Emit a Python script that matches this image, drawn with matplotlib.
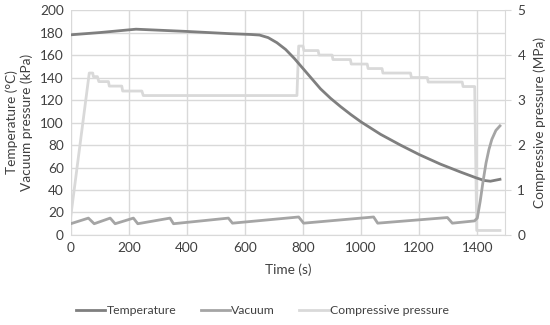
import matplotlib
matplotlib.use("Agg")
import matplotlib.pyplot as plt

# ── data ────────────────────────────────────────────────
temp_t = [0, 100, 225, 400, 550, 620, 650, 680, 710, 740, 770, 800, 830, 860, 895,
          930, 965, 1000, 1067, 1135, 1200, 1273, 1342, 1394, 1423, 1445, 1478]
temp_v = [178, 180, 183, 181, 179, 178.3, 177.8, 175.5, 171, 165, 157, 148, 139, 130, 121.5,
          114, 107, 100.5, 89.5, 80, 71.5, 63, 56, 51, 48.5, 47.8, 49.5]

vac_t = [0, 61, 81, 136, 153, 216, 231, 342, 354, 543, 557, 785, 802, 1043, 1057,
         1297, 1314, 1390, 1400, 1410, 1420, 1430, 1440, 1450, 1464, 1478]
vac_v = [10, 15, 10, 15, 10, 15, 10, 15, 10, 15, 10.5, 16, 10.5, 16, 10.5,
         15.5, 10.5, 12.5, 15, 30, 48, 64, 76, 85, 93, 97]

cp_t = [0, 64, 76, 78, 92, 97, 130, 133, 176, 179, 245, 250, 779, 785, 800, 803,
        852, 855, 900, 903, 963, 966, 1021, 1024, 1072, 1075, 1170, 1173, 1228, 1231,
        1348, 1351, 1391, 1398, 1478]
cp_v = [0.4, 3.6, 3.6, 3.52, 3.52, 3.41, 3.41, 3.31, 3.31, 3.2, 3.2, 3.1, 3.1, 4.2, 4.2, 4.1,
        4.1, 4.0, 4.0, 3.9, 3.9, 3.8, 3.8, 3.7, 3.7, 3.6, 3.6, 3.5, 3.5, 3.4,
        3.4, 3.3, 3.3, 0.1, 0.1]

# ── style ──────────────────────────────────────────────
plt.rcParams["font.family"] = ["Lato", "DejaVu Sans"]
txt = "#404040"
grid = "#d9d9d9"
c_temp, c_vac, c_cp = "#7f7f7f", "#a5a5a5", "#d9d9d9"
fs = 9.8

fig, ax = plt.subplots(figsize=(5.5, 3.25), dpi=100)
fig.subplots_adjust(left=0.1285, right=0.918, top=0.969, bottom=0.277)
ax2 = ax.twinx()

l3, = ax2.plot(cp_t, cp_v, color=c_cp, lw=2, label="Compressive pressure")
l1, = ax.plot(temp_t, temp_v, color=c_temp, lw=2, label="Temperature")
l2, = ax.plot(vac_t, vac_v, color=c_vac, lw=2, label="Vacuum")
ax.set_zorder(ax2.get_zorder() + 1)
ax.patch.set_visible(False)

ax.set_xlim(0, 1495)
ax.set_ylim(0, 200)
ax2.set_ylim(0, 5)
ax.set_xticks(range(0, 1401, 200))
ax.set_yticks(range(0, 201, 20))
ax2.set_yticks(range(0, 6))

ax.grid(True, color=grid, lw=1)
ax.set_axisbelow(True)
for a in (ax, ax2):
    for s in a.spines.values():
        s.set_visible(False)
ax2.spines["right"].set_visible(True)
ax2.spines["right"].set_color(grid)
ax.spines["bottom"].set_visible(True)
ax.spines["bottom"].set_color(grid)

ax.tick_params(axis="both", length=0, labelsize=fs, colors=txt, pad=5)
ax2.tick_params(axis="y", length=4, color=grid, labelsize=fs, labelcolor=txt, pad=5)

ax.set_xlabel("Time (s)", fontsize=fs, color=txt, labelpad=7)
ax.set_ylabel("Temperature (°C)\nVacuum pressure (kPa)", fontsize=fs, color=txt,
              labelpad=5, linespacing=1.25)
ax2.set_ylabel("Compressive pressure (MPa)", fontsize=fs, color=txt, labelpad=6)

fig.legend(handles=[l1, l2, l3], loc="center", bbox_to_anchor=(0.477, 0.045),
           ncol=3, frameon=False, fontsize=8.8, handlelength=2.4, handletextpad=0.1,
           columnspacing=2.0, labelcolor=txt)

fig.savefig("out.png", dpi=100)
